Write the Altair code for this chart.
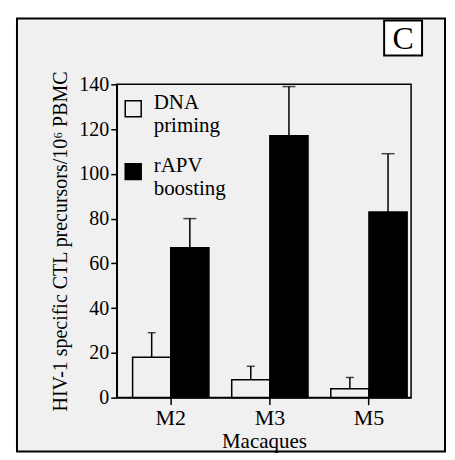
import altair as alt
import pandas as pd

macaques = ["M2", "M3", "M5"]
series = ["DNA priming", "rAPV boosting"]
dna_values = [18, 8, 4]
dna_upper = [29, 14, 9]
rapv_values = [67, 117, 83]
rapv_upper = [80, 139, 109]
y_ticks = [0, 20, 40, 60, 80, 100, 120, 140]

rows = []
for i, m in enumerate(macaques):
    rows.append({"macaque": m, "series": series[0], "value": dna_values[i], "upper": dna_upper[i]})
    rows.append({"macaque": m, "series": series[1], "value": rapv_values[i], "upper": rapv_upper[i]})
df = pd.DataFrame(rows)

W, H = 295, 314
BG = "#f0f0f0"
FONT = "Liberation Serif"

xenc = alt.X("macaque:N", sort=macaques,
             scale=alt.Scale(paddingInner=0.23, paddingOuter=0.1, align=0.8),
             axis=alt.Axis(title="Macaques", labelAngle=0, tickSize=7, labelPadding=3,
                           labelFontSize=22, titleFontSize=21,
                           titlePadding=2, domainWidth=1.5, tickWidth=1.5, zindex=1))
yenc = alt.Y("value:Q", scale=alt.Scale(domain=[0, 140], nice=False),
             axis=alt.Axis(title="HIV-1 specific CTL precursors/10⁶ PBMC", values=y_ticks,
                           tickSize=6, labelPadding=2, titlePadding=8, domainWidth=1.5,
                           tickWidth=1.5, grid=False, zindex=1, labelFontSize=20))
xoff = alt.XOffset("series:N", sort=series)

one = pd.DataFrame({"k": [0]})

frame = alt.Chart(one).mark_rect(fill=BG, stroke="black", strokeWidth=2, clip=False).encode(
    x=alt.value(-100), x2=alt.value(329), y=alt.value(-66), y2=alt.value(368))

plotbox = alt.Chart(one).mark_rect(fill=None, stroke="black", strokeWidth=1.5, clip=False).encode(
    x=alt.value(0), x2=alt.value(W), y=alt.value(0), y2=alt.value(H))

bars = alt.Chart(df).mark_bar(stroke="black", strokeWidth=1.5).encode(
    x=xenc, xOffset=xoff, y=yenc,
    fill=alt.Fill("series:N", sort=series,
                  scale=alt.Scale(domain=series, range=[BG, "black"]),
                  legend=alt.Legend(title=None, orient="none", legendX=6, legendY=14,
                                    symbolType="square", symbolSize=256,
                                    symbolStrokeColor="black", symbolStrokeWidth=1.5,
                                    labelExpr="split(datum.label, ' ')",
                                    labelFont=FONT, labelFontSize=21, labelColor="black",
                                    labelBaseline="alphabetic", labelOffset=10,
                                    rowPadding=18, padding=0)))

rules = alt.Chart(df).mark_rule(color="black", strokeWidth=1.5).encode(
    x=xenc, xOffset=xoff, y=alt.Y("value:Q"), y2="upper:Q")

caps_dna = alt.Chart(df).transform_filter(alt.datum.series == series[0]).mark_tick(
    color="black", thickness=1.5, size=8).encode(
    x=xenc, xOffset=xoff, y=alt.Y("upper:Q"))
caps_rapv = alt.Chart(df).transform_filter(alt.datum.series == series[1]).mark_tick(
    color="black", thickness=1.5, size=13).encode(
    x=xenc, xOffset=xoff, y=alt.Y("upper:Q"))

cbox = alt.Chart(one).mark_rect(fill="white", stroke="black", strokeWidth=2, clip=False).encode(
    x=alt.value(268), x2=alt.value(306), y=alt.value(-64), y2=alt.value(-29))
ctext = alt.Chart(one).mark_text(text="C", font=FONT, fontSize=32, align="center",
                                 baseline="middle", color="black", clip=False).encode(
    x=alt.value(287), y=alt.value(-45))

chart = alt.layer(frame, plotbox, bars, rules, caps_dna, caps_rapv, cbox, ctext).properties(
    width=W, height=H,
    autosize=alt.AutoSizeParams(type="none"),
    padding={"left": 109, "top": 76, "right": 36, "bottom": 56},
    background="white",
).configure_view(stroke=None, fill=None).configure_axis(
    labelFont=FONT, labelColor="black",
    titleFont=FONT, titleFontSize=20, titleFontWeight="normal", titleColor="black",
    domainColor="black", tickColor="black",
)

chart.save("out.html", embed_options={"renderer": "svg", "actions": False})
